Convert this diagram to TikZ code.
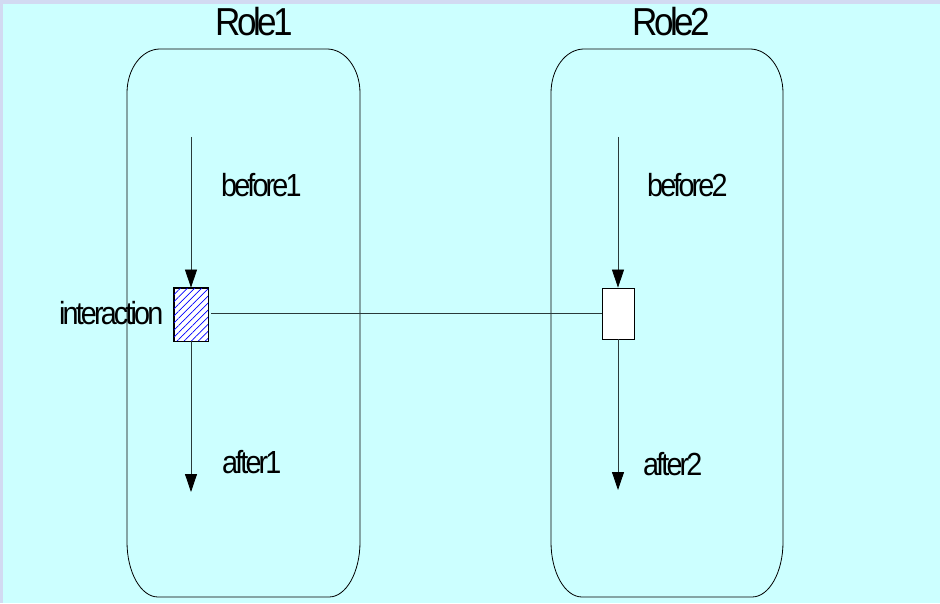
\documentclass[tikz,border=0pt]{standalone}
\usepackage{fontspec}
\setmainfont{Liberation Sans}[LetterSpace=-10]
\usetikzlibrary{arrows.meta,patterns.meta}
\definecolor{bgcyan}{HTML}{CCFFFF}
\definecolor{bglav}{HTML}{D2DAF2}
\definecolor{linec}{HTML}{2A3A3A}
\begin{document}
\begin{tikzpicture}[x=1pt,y=1pt,
  lbl/.style={inner sep=0pt, xscale=0.9, font=\fontsize{32}{32}\selectfont},
  ttl/.style={inner sep=0pt, xscale=0.9, font=\fontsize{39}{39}\selectfont},
  rolebox/.style={draw=black, line width=0.8pt},
  flow/.style={draw=linec, line width=0.8pt, -{Triangle[length=18pt,width=12pt,black]}},
  intbox/.style={draw=black, line width=0.8pt, inner sep=0pt},
  link/.style={draw=linec, line width=0.8pt}]
\useasboundingbox (0,0) rectangle (940,603);
\fill[bglav] (0,0) rectangle (940,603);
\fill[bgcyan] (3,0) rectangle (940,599);
% role boxes
\draw[rolebox] (127,61) -- (127,510) arc[start angle=180,end angle=90,x radius=33,y radius=44]
  -- (327,554) arc[start angle=90,end angle=0,x radius=33,y radius=44]
  -- (360,61) arc[start angle=0,end angle=-90,x radius=31,y radius=55]
  -- (158,6) arc[start angle=270,end angle=180,x radius=31,y radius=55] -- cycle;
\draw[rolebox] (551,61) -- (551,510) arc[start angle=180,end angle=90,x radius=33,y radius=44]
  -- (750,554) arc[start angle=90,end angle=0,x radius=33,y radius=44]
  -- (783,61) arc[start angle=0,end angle=-90,x radius=31,y radius=55]
  -- (582,6) arc[start angle=270,end angle=180,x radius=31,y radius=55] -- cycle;
% titles
\node[ttl, anchor=base] (role1) at (254,567) {Role1};
\node[ttl, anchor=base] (role2) at (671,567) {Role2};
% interaction boxes
\node[intbox, fill=white, minimum width=34pt, minimum height=53pt] (int1) at (191,288.5) {};
\fill[pattern={Lines[angle=45,distance=5pt,line width=0.7pt]}, pattern color=blue]
  (int1.south west) rectangle (int1.north east);
\draw[black, line width=0.8pt] (int1.south west) rectangle (int1.north east);
\node[intbox, fill=white, minimum width=32pt, minimum height=51pt] (int2) at (618,289.5) {};
% coordinates
\coordinate (top1) at (191,466);
\coordinate (bot1) at (191,111);
\coordinate (top2) at (618,466);
\coordinate (bot2) at (618,113);
% flows
\draw[flow] (top1) -- (int1.north);
\draw[flow] (int1.south) -- (bot1);
\draw[flow] (top2) -- (int2.north);
\draw[flow] (int2.south) -- (bot2);
\draw[link, shorten <=3pt] (int1.east |- 0,290) -- (int2.west |- 0,290);
% labels
\node[lbl, anchor=base west] (b1) at (221,406) {before1};
\node[lbl, anchor=base west] (b2) at (647,406) {before2};
\node[lbl, anchor=base west] (a1) at (222,129) {after1};
\node[lbl, anchor=base west] (a2) at (643,128) {after2};
\node[lbl, anchor=base west] (inter) at (59,278) {interaction};
\end{tikzpicture}
\end{document}
